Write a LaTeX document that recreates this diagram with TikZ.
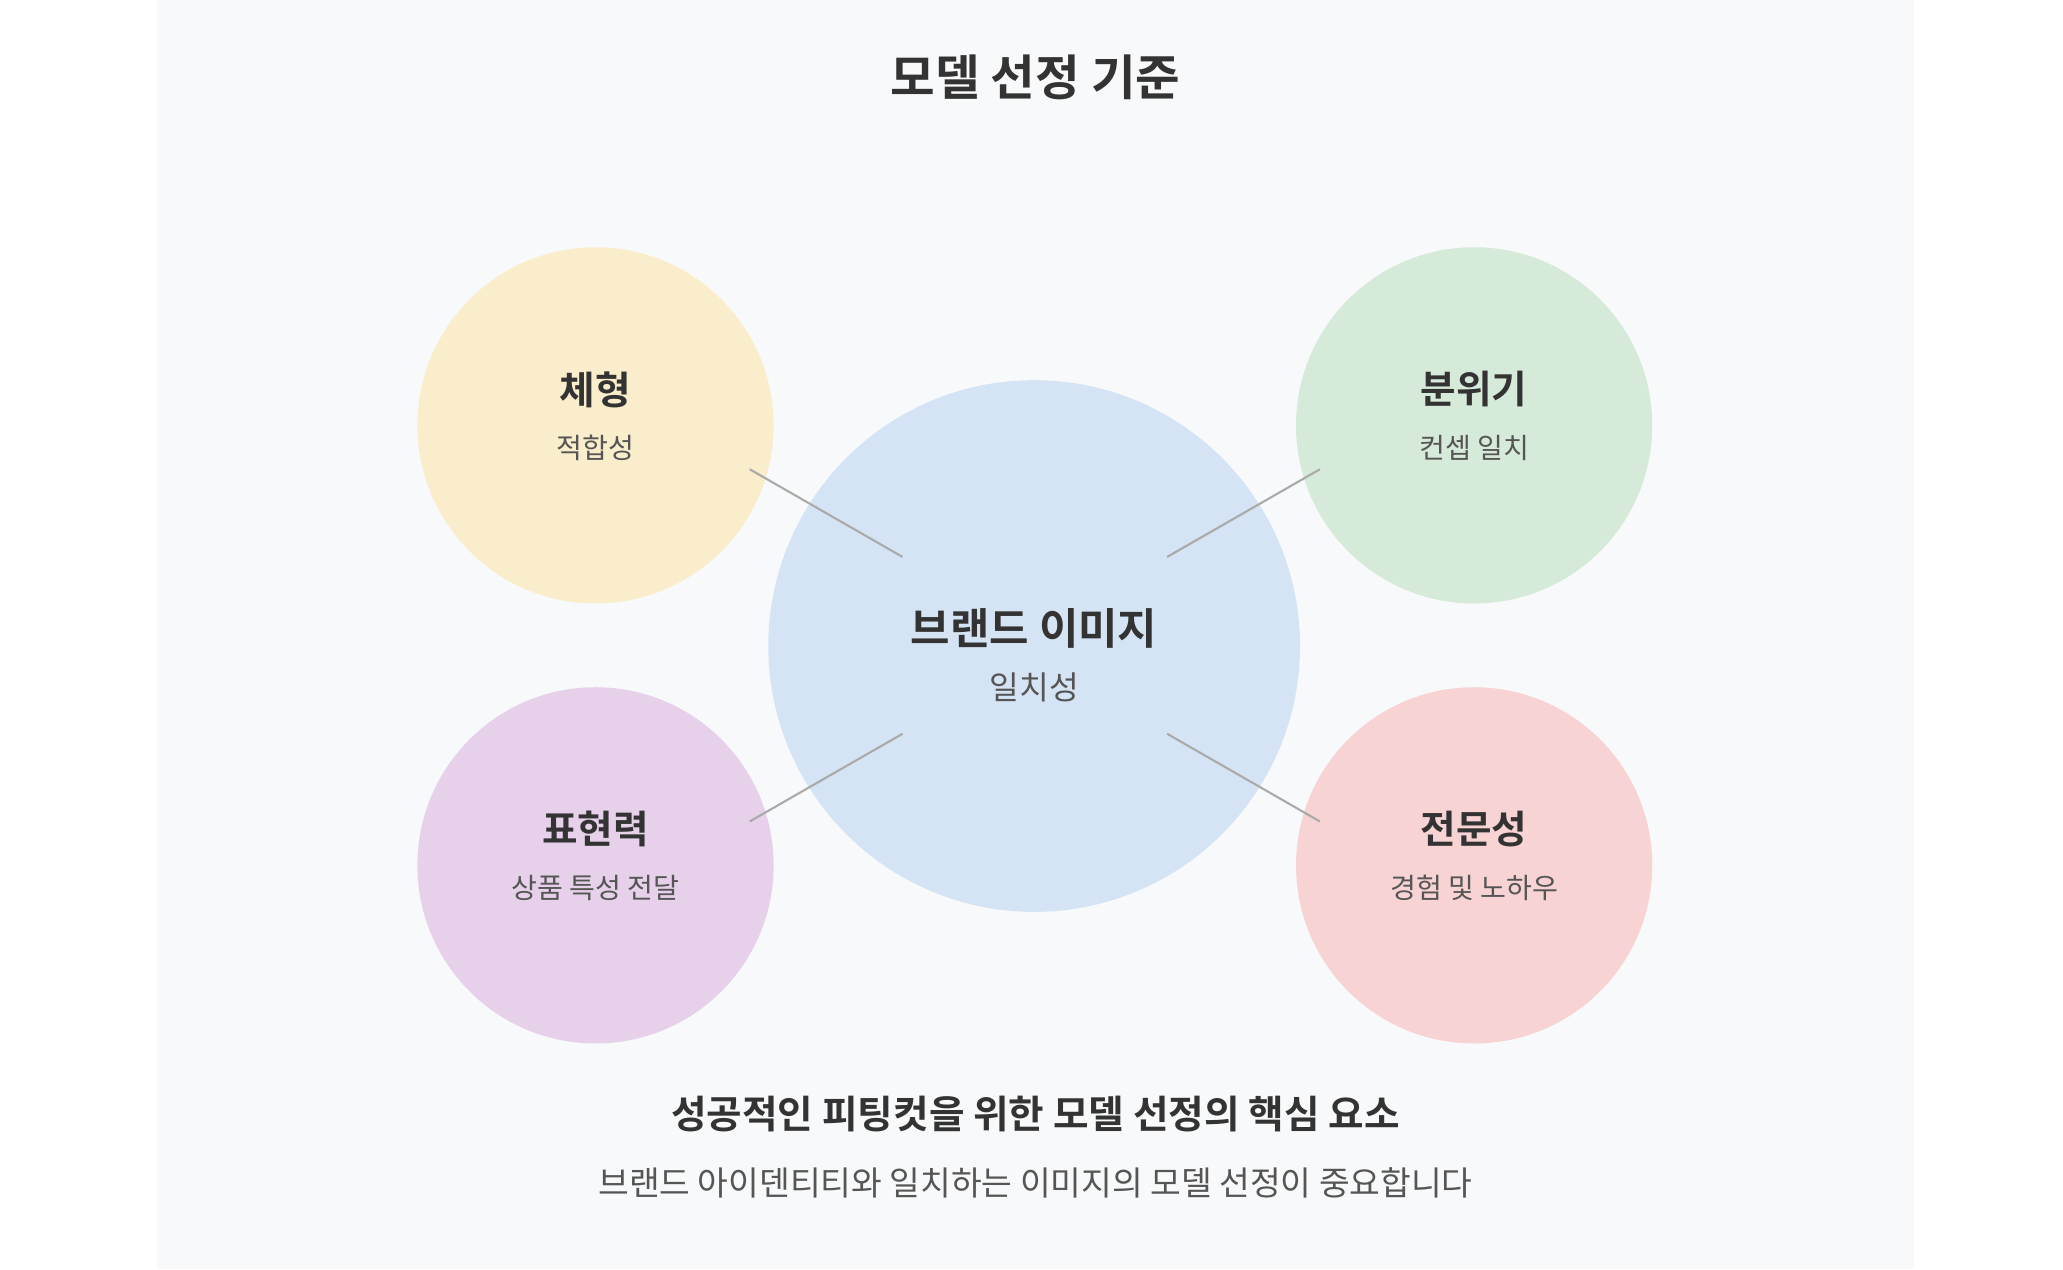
\documentclass[tikz,border=0pt]{standalone}
\usepackage{fontspec}
\setmainfont{Noto Sans CJK KR}
\newfontfamily\boldkr{Noto Sans CJK KR Bold}
\definecolor{panelbg}{HTML}{F8F9FA}
\definecolor{txtdark}{HTML}{333333}
\definecolor{txtgray}{HTML}{555555}
\definecolor{linkgray}{HTML}{AAAAAA}
\definecolor{cyellow}{HTML}{FAEDCB}
\definecolor{cgreen}{HTML}{D5EAD8}
\definecolor{cblue}{HTML}{D4E4F4}
\definecolor{cpurple}{HTML}{E6D0EA}
\definecolor{cpink}{HTML}{F7D3D3}
\tikzset{
  headtxt/.style={font=\boldkr\fontsize{11}{13}\selectfont, text=txtdark},
  subtxt/.style={font=\fontsize{8}{10}\selectfont, text=txtgray},
  link/.style={draw=linkgray, line width=0.6pt}
}
\begin{document}
\begin{tikzpicture}[x=0.013293cm, y=-0.013293cm]
\useasboundingbox (0,0) rectangle (1552,955);
\fill[white] (0,0) rectangle (1552,955);
\fill[panelbg] (118,0) rectangle (1440,955);

\node[headtxt, font=\boldkr\fontsize{13.8}{16}\selectfont] (title) at (779,58) {모델 선정 기준};

% circles
\fill[cblue] (778,486) circle (200);
\fill[cyellow] (448,320) circle (134);
\fill[cgreen] (1109,320) circle (134);
\fill[cpurple] (448,651) circle (134);
\fill[cpink] (1109,651) circle (134);

% links
\coordinate (ya) at (564,353); \coordinate (yb) at (679,419);
\coordinate (ga) at (993,353); \coordinate (gb) at (878,419);
\coordinate (pa) at (564,618); \coordinate (pb) at (679,552);
\coordinate (ra) at (993,618); \coordinate (rb) at (878,552);
\draw[link] (ya) -- (yb);
\draw[link] (ga) -- (gb);
\draw[link] (pa) -- (pb);
\draw[link] (ra) -- (rb);

% labels
\node[headtxt, font=\boldkr\fontsize{12.2}{14}\selectfont] (brand) at (778,473) {브랜드 이미지};
\node[subtxt, font=\fontsize{9.2}{11}\selectfont] (brandsub) at (778,517) {일치성};

\node[headtxt] (body) at (448,293) {체형};
\node[subtxt] (bodysub) at (448,337) {적합성};
\node[headtxt] (mood) at (1109,293) {분위기};
\node[subtxt] (moodsub) at (1109,337) {컨셉 일치};
\node[headtxt] (expr) at (448,624) {표현력};
\node[subtxt] (exprsub) at (448,668) {상품 특성 전달};
\node[headtxt] (pro) at (1109,624) {전문성};
\node[subtxt] (prosub) at (1109,668) {경험 및 노하우};

\node[headtxt] (summary) at (779,838) {성공적인 피팅컷을 위한 모델 선정의 핵심 요소};
\node[subtxt, font=\fontsize{9.5}{11}\selectfont] (note) at (779,890) {브랜드 아이덴티티와 일치하는 이미지의 모델 선정이 중요합니다};
\end{tikzpicture}
\end{document}
